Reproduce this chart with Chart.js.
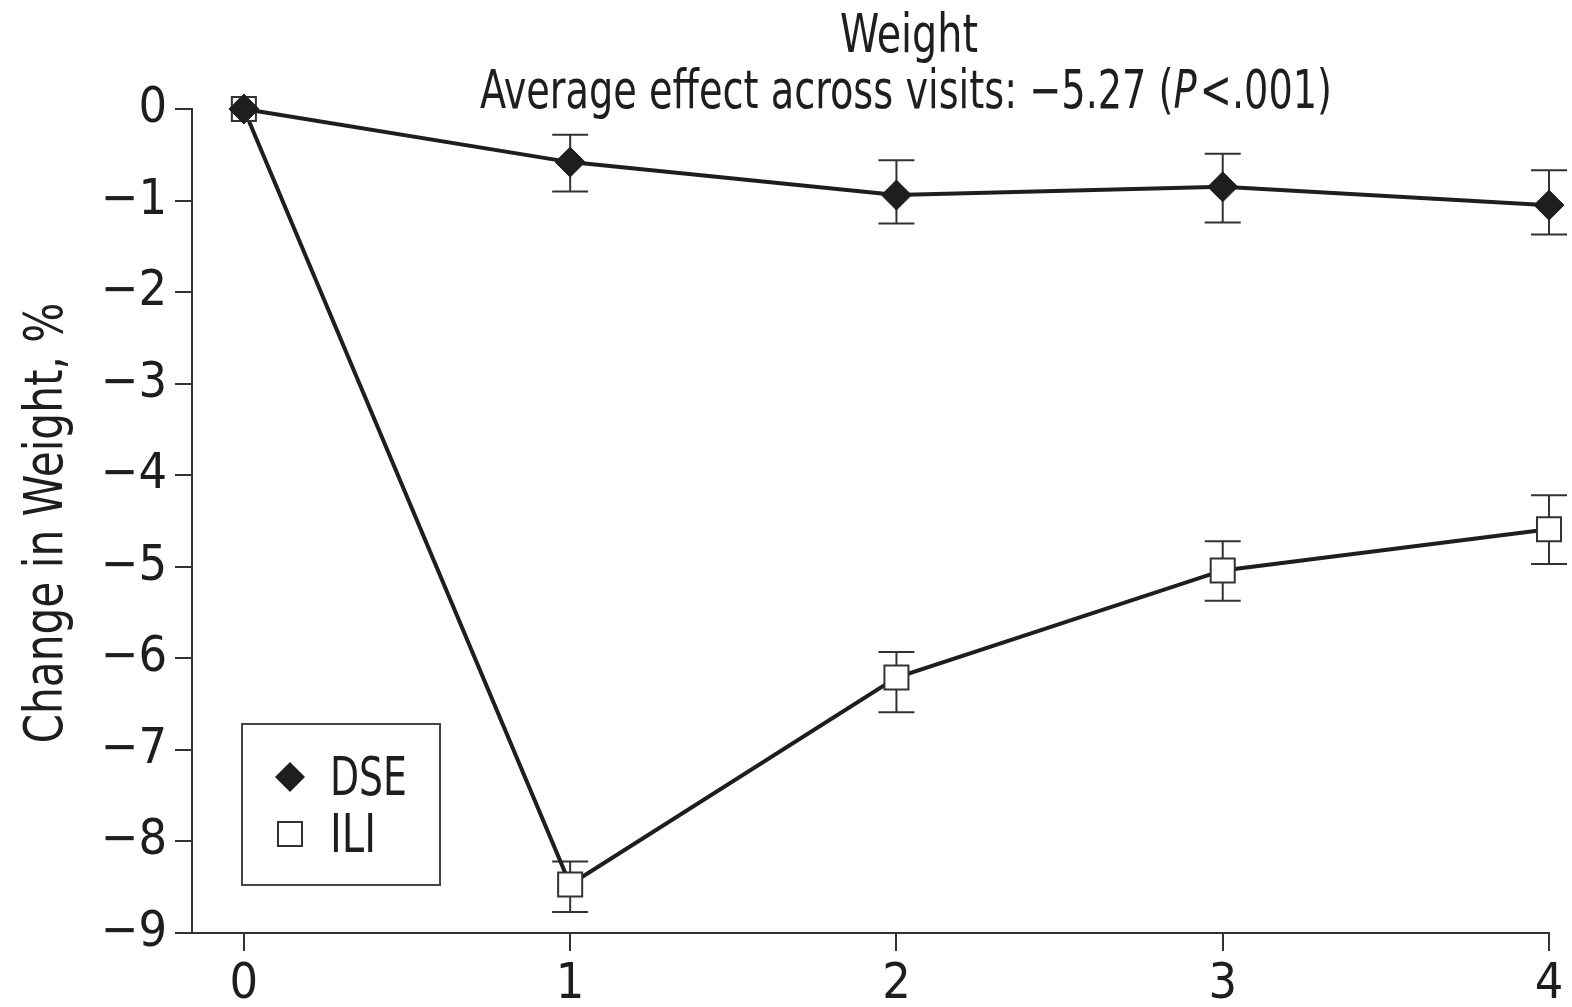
<!DOCTYPE html>
<html>
<head>
<meta charset="utf-8">
<script src="https://cdn.jsdelivr.net/npm/chart.js@4.4.0/dist/chart.umd.min.js"></script>
<style>
  html, body { margin: 0; padding: 0; background: #fff; }
  #wrap { width: 1572px; height: 1007px; }
</style>
</head>
<body>
<div id="wrap"><canvas id="weightChart" width="1572" height="1007"></canvas></div>
<script>
const visits = [0, 1, 2, 3, 4];
const xTicks = [0, 1, 2, 3, 4];
const yTicks = [0, -1, -2, -3, -4, -5, -6, -7, -8, -9];

const dseMean = [0, -0.58, -0.94, -0.85, -1.05];
const dseHigh = [null, -0.28, -0.56, -0.49, -0.67];
const dseLow = [null, -0.90, -1.25, -1.24, -1.37];

const iliMean = [0, -8.47, -6.21, -5.04, -4.59];
const iliHigh = [null, -8.22, -5.93, -4.72, -4.22];
const iliLow = [null, -8.77, -6.59, -5.37, -4.97];

const seriesNames = ['DSE', 'ILI'];
const titleLine1 = 'Weight';
const titleLine2 = ['Average effect across visits: \u22125.27 (', 'P', '<.001)'];
const yTitle = 'Change in Weight, %';

const FONT = '"Liberation Sans Narrow", "DejaVu Sans Condensed", "Arial Narrow", sans-serif';
const INK = '#1e1e1e';
const AXIS = '#333';

function toPoints(means) {
  return visits.map((v, i) => ({ x: v, y: means[i] }));
}

// the original type is a condensed face; squeeze the text horizontally to fit its width
function squeezedText(ctx, parts, fonts, cx, baseline, targetWidth, gap) {
  let total = 0;
  const widths = parts.map((t, i) => {
    ctx.font = fonts[i];
    const w = ctx.measureText(t).width;
    total += w + (gap[i] || 0);
    return w;
  });
  const k = targetWidth / total;
  ctx.save();
  ctx.translate(cx - targetWidth / 2, baseline);
  ctx.scale(k, 1);
  ctx.textAlign = 'left';
  let x = 0;
  parts.forEach((t, i) => {
    ctx.font = fonts[i];
    ctx.fillText(t, x, 0);
    x += widths[i] + (gap[i] || 0);
  });
  ctx.restore();
}

// error bars go under the markers
const errorBars = {
  id: 'errorBars',
  beforeDatasetsDraw(chart) {
    const ctx = chart.ctx;
    const xs = chart.scales.x, ys = chart.scales.y;
    const sets = [[dseLow, dseHigh], [iliLow, iliHigh]];
    ctx.save();
    ctx.strokeStyle = AXIS;
    ctx.lineWidth = 2;
    sets.forEach(([lo, hi]) => {
      visits.forEach((v, i) => {
        if (lo[i] == null) return;
        const x = xs.getPixelForValue(v);
        const y1 = ys.getPixelForValue(hi[i]);
        const y2 = ys.getPixelForValue(lo[i]);
        ctx.beginPath();
        ctx.moveTo(x, y1); ctx.lineTo(x, y2);
        ctx.moveTo(x - 18, y1); ctx.lineTo(x + 18, y1);
        ctx.moveTo(x - 18, y2); ctx.lineTo(x + 18, y2);
        ctx.stroke();
      });
    });
    ctx.restore();
  }
};

const extras = {
  id: 'extras',
  afterDraw(chart) {
    const ctx = chart.ctx;
    const f = '53px ' + FONT;
    const fi = 'italic 53px ' + FONT;
    ctx.save();
    ctx.fillStyle = INK;
    ctx.textBaseline = 'alphabetic';

    // title, two lines
    squeezedText(ctx, [titleLine1], [f], 909, 52, 138, []);
    squeezedText(ctx, titleLine2, [f, fi, f], 906, 108, 852, [0, 4, 0]);

    // y axis title, rotated
    ctx.save();
    ctx.translate(62, 523);
    ctx.rotate(-Math.PI / 2);
    squeezedText(ctx, [yTitle], [f], 0, 0, 441, []);
    ctx.restore();

    // legend box
    ctx.strokeStyle = '#444';
    ctx.lineWidth = 2;
    ctx.strokeRect(242, 724, 198, 161);

    squeezedText(ctx, [seriesNames[0]], [f], 330 + 38.5, 795, 77, []);
    squeezedText(ctx, [seriesNames[1]], [f], 330 + 23, 852, 46, []);

    ctx.beginPath();
    ctx.moveTo(275, 777); ctx.lineTo(290, 762); ctx.lineTo(305, 777); ctx.lineTo(290, 792);
    ctx.closePath();
    ctx.fill();

    ctx.fillStyle = '#fff';
    ctx.fillRect(278, 822, 24, 24);
    ctx.strokeStyle = '#333';
    ctx.strokeRect(278, 822, 24, 24);
    ctx.restore();
  }
};

new Chart(document.getElementById('weightChart'), {
  type: 'line',
  data: {
    datasets: [
      {
        label: seriesNames[0],
        data: toPoints(dseMean),
        borderColor: INK,
        borderWidth: 4,
        pointStyle: 'rectRot',
        pointRadius: 15,
        pointBackgroundColor: INK,
        pointBorderColor: INK,
        pointBorderWidth: 1,
        clip: false
      },
      {
        label: seriesNames[1],
        data: toPoints(iliMean),
        borderColor: INK,
        borderWidth: 4,
        pointStyle: 'rect',
        pointRadius: 17,
        pointBackgroundColor: '#fff',
        pointBorderColor: '#333',
        pointBorderWidth: 2,
        clip: false
      }
    ]
  },
  options: {
    responsive: false,
    animation: false,
    layout: { padding: { top: 109, right: 23, left: 0, bottom: 0 } },
    plugins: { legend: { display: false }, title: { display: false }, tooltip: { enabled: false } },
    scales: {
      x: {
        type: 'linear',
        min: -0.159,
        max: 4,
        afterBuildTicks: s => { s.ticks = xTicks.map(v => ({ value: v })); },
        afterFit: s => { s.height = 74; },
        grid: { drawOnChartArea: false, tickLength: 18, color: AXIS, lineWidth: 2 },
        border: { color: AXIS, width: 2 },
        ticks: { color: INK, padding: 4, maxRotation: 0, font: { family: FONT, size: 50 } }
      },
      y: {
        type: 'linear',
        min: -9,
        max: 0,
        afterBuildTicks: s => { s.ticks = yTicks.map(v => ({ value: v })); },
        afterFit: s => { s.width = 192; },
        grid: { drawOnChartArea: false, tickLength: 17, color: AXIS, lineWidth: 2 },
        border: { color: AXIS, width: 2 },
        ticks: {
          color: INK, padding: 8, font: { family: FONT, size: 50 },
          callback: v => (v < 0 ? '\u2212' + Math.abs(v) : String(v))
        },
        title: { display: false }
      }
    }
  },
  plugins: [errorBars, extras]
});
</script>
</body>
</html>
